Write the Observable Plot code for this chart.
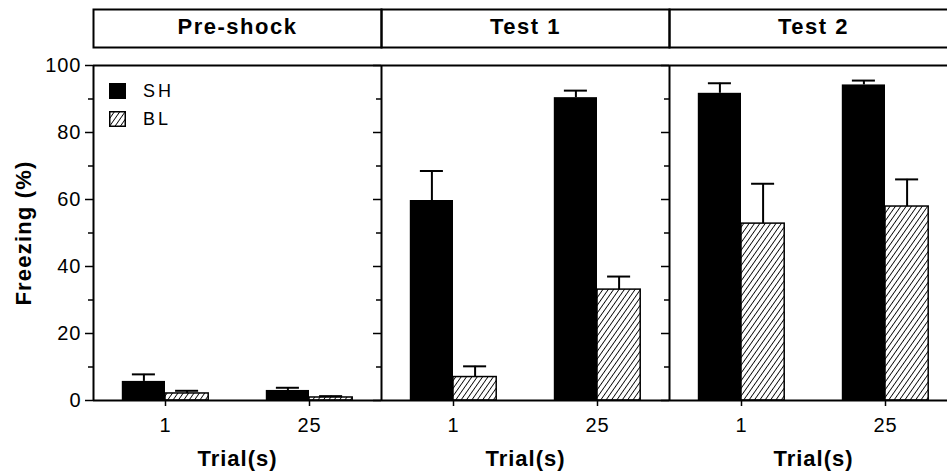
<!DOCTYPE html>
<html>
<head>
<meta charset="utf-8">
<script src="https://cdn.jsdelivr.net/npm/d3@7"></script>
<script src="https://cdn.jsdelivr.net/npm/@observablehq/plot@0.6"></script>
<style>
  html, body { margin: 0; padding: 0; background: white; }
  body { width: 947px; height: 476px; overflow: hidden; position: relative; font-family: "Liberation Sans", Arial, sans-serif; }
  #header, #chart, #legend { position: absolute; }
  #header { left: 0; top: 8px; }
  #chart { left: 0; top: 48px; }
  #chart svg text { letter-spacing: 1px; }
  #chart [aria-label="y-axis label"] text { font-weight: bold; font-size: 22px; letter-spacing: 1.2px; }
  #header svg text { letter-spacing: 1.5px; }
  #legend { left: 109px; top: 77px; font-size: 18px; letter-spacing: 3px; color: black; }
  .lrow { display: flex; align-items: center; height: 28px; }
  .lrow svg { margin-right: 17px; flex: none; }
</style>
</head>
<body>
<svg width="0" height="0" style="position:absolute">
  <defs>
    <pattern id="hatch" patternUnits="userSpaceOnUse" width="4.4" height="4.4" patternTransform="rotate(35)">
      <rect width="4.4" height="4.4" fill="white"></rect>
      <line x1="0" y1="0" x2="0" y2="4.4" stroke="black" stroke-width="1.7"></line>
    </pattern>
  </defs>
</svg>
<div id="header"></div>
<div id="chart"></div>
<div id="legend"></div>
<script>
const panels = ["Pre-shock", "Test 1", "Test 2"];
const trials = ["1", "25"];
const groups = ["SH", "BL"];
// values per panel x trial: [Pre-shock 1, Pre-shock 25, Test1 1, Test1 25, Test2 1, Test2 25]
const shMean = [5.7, 3.0, 59.7, 90.4, 91.7, 94.2];
const shSem  = [2.1, 0.8, 8.8, 2.1, 3.0, 1.3];
const blMean = [2.1, 0.9, 7.0, 33.1, 52.8, 57.9];
const blSem  = [0.8, 0.4, 3.2, 3.9, 11.9, 8.1];
const yMajor = [0, 20, 40, 60, 80, 100];
const yMinor = [10, 30, 50, 70, 90];
const yLabel = "Freezing (%)";
const xLabel = "Trial(s)";

const FONT = "'Liberation Sans', Arial, sans-serif";
const xDomain = [-0.5, trials.length - 0.5];
const barWidth = 0.3, capHalf = 0.08;

const rows = [];
panels.forEach((panel, p) => trials.forEach((trial, t) => {
  const i = p * trials.length + t;
  [[groups[0], shMean[i], shSem[i], -1], [groups[1], blMean[i], blSem[i], 0]].forEach(([group, mean, sem, side]) => {
    const x1 = t + side * barWidth, x2 = x1 + barWidth, xc = (x1 + x2) / 2;
    rows.push({panel, trial, group, mean, top: mean + sem, x1, x2, xc, c1: xc - capHalf, c2: xc + capHalf});
  });
}));

const W = 957, ML = 93;

// Header boxes
const header = Plot.plot({
  width: W, height: 40, marginLeft: ML, marginRight: 0, marginTop: 1, marginBottom: 1,
  style: {fontFamily: FONT, background: "transparent", maxWidth: "none", overflow: "visible"},
  fx: {domain: panels, padding: 0, axis: null},
  marks: [
    Plot.frame({stroke: "black", strokeWidth: 2}),
    Plot.text(panels, {fx: d => d, text: d => d, frameAnchor: "middle", dy: -2, fontSize: 22, fontWeight: "bold", fill: "black"})
  ]
});
document.getElementById("header").appendChild(header);

const chart = Plot.plot({
  width: W, height: 428, marginLeft: ML, marginRight: 0, marginTop: 17, marginBottom: 76,
  style: {fontFamily: FONT, fontSize: "20px", background: "transparent", maxWidth: "none", overflow: "visible", color: "black"},
  fx: {domain: panels, padding: 0, axis: null, label: null},
  x: {domain: xDomain},
  y: {domain: [0, 100]},
  marks: [
    Plot.rect(rows.filter(d => d.group === groups[1]), {fx: "panel", x1: "x1", x2: "x2", y1: 0, y2: "mean", fill: "url(#hatch)", stroke: "black", strokeWidth: 1.5}),
    Plot.rect(rows.filter(d => d.group === groups[0]), {fx: "panel", x1: "x1", x2: "x2", y1: 0, y2: "mean", fill: "black"}),
    Plot.ruleX(rows, {fx: "panel", x: "xc", y1: "mean", y2: "top", stroke: "black", strokeWidth: 2}),
    Plot.ruleY(rows, {fx: "panel", y: "top", x1: "c1", x2: "c2", stroke: "black", strokeWidth: 2}),
    Plot.ruleY([0, 100], {stroke: "black", strokeWidth: 2}),
    Plot.ruleX([xDomain[0]], {stroke: "black", strokeWidth: 2}),
    Plot.axisY({ticks: yMajor, tickSize: 0, tickPadding: 12, label: yLabel, labelAnchor: "center", labelArrow: "none", labelOffset: 78}),
    Plot.axisY({ticks: yMajor, tickSize: 8, fill: "none", label: null, facetAnchor: null, strokeWidth: 1.5}),
    Plot.axisY({ticks: yMinor, tickSize: 5, fill: "none", label: null, facetAnchor: null, strokeWidth: 1.5}),
    Plot.axisX({ticks: d3.range(trials.length), tickFormat: i => trials[i], tickSize: 6, tickPadding: 11, label: null, strokeWidth: 1.5}),
    Plot.text([xLabel], {frameAnchor: "bottom", dy: 65, fontSize: 22, fontWeight: "bold", fill: "black"})
  ]
});
document.getElementById("chart").appendChild(chart);

// Legend
const legend = document.getElementById("legend");
const fills = {[groups[0]]: "black", [groups[1]]: "url(#hatch)"};
groups.forEach(g => {
  const row = document.createElement("div");
  row.className = "lrow";
  row.innerHTML = `<svg width="17" height="16"><rect x="0.75" y="0.75" width="15.5" height="14.5" fill="${fills[g]}" stroke="black" stroke-width="1.5"></rect></svg><span>${g}</span>`;
  legend.appendChild(row);
});
</script>
</body>
</html>
